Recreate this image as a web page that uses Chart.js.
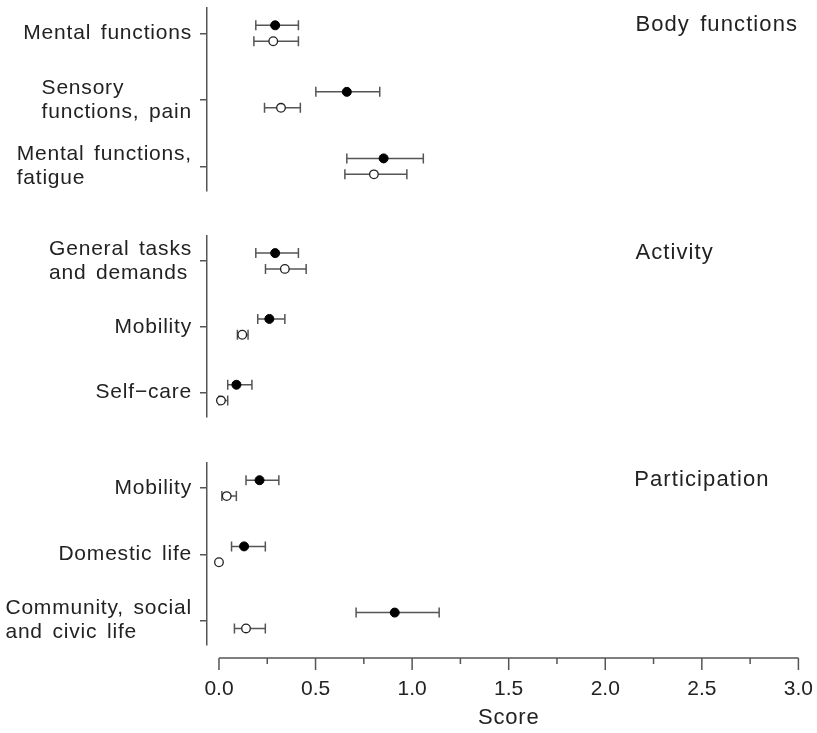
<!DOCTYPE html>
<html>
<head>
<meta charset="utf-8">
<title>Score by domain</title>
<script src="https://cdn.jsdelivr.net/npm/chart.js@4.4.0/dist/chart.umd.min.js"></script>
<style>
	html, body { margin: 0; padding: 0; background: #fff; }
	#wrap { position: relative; width: 817px; height: 733px; overflow: hidden; }
	#wrap canvas { position: absolute; left: 0; }
</style>
</head>
<body>
<div id="wrap">
	<canvas id="panelBody" width="817" height="200" style="top:0px"></canvas>
	<canvas id="panelActivity" width="817" height="200" style="top:228px"></canvas>
	<canvas id="panelParticipation" width="817" height="278" style="top:455px"></canvas>
</div>
<script>
// x axis ticks (labels only on every 0.5)
const xTickValues = [0, 0.25, 0.5, 0.75, 1, 1.25, 1.5, 1.75, 2, 2.25, 2.5, 2.75, 3];

// Body functions
const bodyLabels = [['Mental functions'], ['Sensory', 'functions, pain'], ['Mental functions,', 'fatigue']];
const bodyFilledMean = [0.29, 0.66, 0.85];
const bodyFilledLow = [0.19, 0.50, 0.66];
const bodyFilledHigh = [0.41, 0.83, 1.055];
const bodyOpenMean = [0.28, 0.32, 0.80];
const bodyOpenLow = [0.18, 0.235, 0.65];
const bodyOpenHigh = [0.41, 0.42, 0.97];

// Activity
const activityLabels = [['General tasks', 'and demands'], ['Mobility'], ['Self\u2212care']];
const activityFilledMean = [0.29, 0.26, 0.09];
const activityFilledLow = [0.19, 0.20, 0.045];
const activityFilledHigh = [0.41, 0.34, 0.17];
const activityOpenMean = [0.34, 0.12, 0.01];
const activityOpenLow = [0.24, 0.095, 0.0];
const activityOpenHigh = [0.45, 0.15, 0.045];

// Participation
const participationLabels = [['Mobility'], ['Domestic life'], ['Community, social', 'and civic life']];
const participationFilledMean = [0.21, 0.13, 0.91];
const participationFilledLow = [0.14, 0.065, 0.71];
const participationFilledHigh = [0.31, 0.24, 1.14];
const participationOpenMean = [0.04, 0.0, 0.14];
const participationOpenLow = [0.015, 0.0, 0.08];
const participationOpenHigh = [0.09, 0.0, 0.24];

const FONT = '"Liberation Sans", Arial, sans-serif';
const INK = '#222';
const AXIS = '#555';
Chart.defaults.font.family = FONT;
Chart.defaults.color = INK;

const toPoints = (means, shift) => means.map((v, i) => ({ x: v, y: i + shift }));

// whiskers with end caps, drawn under the points
const errorBarPlugin = {
	id: 'errorBars',
	beforeDatasetsDraw(chart) {
		const ctx = chart.ctx;
		const xs = chart.scales.x;
		ctx.save();
		ctx.strokeStyle = AXIS;
		ctx.lineWidth = 1.5;
		chart.data.datasets.forEach((ds, di) => {
			chart.getDatasetMeta(di).data.forEach((pt, i) => {
				if (ds.low[i] === ds.high[i]) return;
				const x1 = xs.getPixelForValue(ds.low[i]);
				const x2 = xs.getPixelForValue(ds.high[i]);
				const y = pt.y;
				ctx.beginPath();
				ctx.moveTo(x1, y); ctx.lineTo(x2, y);
				ctx.moveTo(x1, y - 5); ctx.lineTo(x1, y + 5);
				ctx.moveTo(x2, y - 5); ctx.lineTo(x2, y + 5);
				ctx.stroke();
			});
		});
		ctx.restore();
	},
};

// category labels (left-aligned block, right-justified to the axis) and panel title
const panelTextPlugin = {
	id: 'panelText',
	afterDraw(chart, args, opts) {
		const ctx = chart.ctx;
		const ys = chart.scales.y;
		const xs = chart.scales.x;
		const right = chart.chartArea.left - 15;
		ctx.save();
		ctx.fillStyle = INK;
		ctx.textBaseline = 'middle';
		ctx.textAlign = 'left';
		ctx.letterSpacing = '0.8px';
		ctx.wordSpacing = '3px';
		ctx.font = '21px ' + FONT;
		opts.labels.forEach((lines, i) => {
			const w = Math.max(...lines.map((l) => ctx.measureText(l).width));
			const yc = ys.getPixelForValue(i);
			lines.forEach((l, k) => ctx.fillText(l, right - w, yc + (k - (lines.length - 1) / 2) * 24));
		});
		ctx.font = '22px ' + FONT;
		ctx.letterSpacing = '1.1px';
		ctx.fillText(opts.title, xs.getPixelForValue(opts.titleX), ys.getPixelForValue(opts.titleY));
		ctx.restore();
	},
};

// R-style x axis: line from first to last tick, set below the plot
const bottomAxisPlugin = {
	id: 'bottomAxis',
	afterDraw(chart) {
		const xs = chart.scales.x;
		if (!xs.options.display) return;
		const ctx = chart.ctx;
		const y0 = chart.chartArea.bottom + 13;
		const a = xs.getPixelForValue(xTickValues[0]);
		const b = xs.getPixelForValue(xTickValues[xTickValues.length - 1]);
		ctx.save();
		ctx.strokeStyle = AXIS;
		ctx.lineWidth = 1.5;
		ctx.beginPath();
		ctx.moveTo(a, y0); ctx.lineTo(b, y0);
		xs.ticks.forEach((t) => {
			const px = xs.getPixelForValue(t.value);
			const len = t.value % 0.5 === 0 ? 12 : 6;
			ctx.moveTo(px, y0); ctx.lineTo(px, y0 + len);
		});
		ctx.stroke();
		ctx.fillStyle = INK;
		ctx.font = '22px ' + FONT;
		ctx.letterSpacing = '0.8px';
		ctx.textAlign = 'center';
		ctx.textBaseline = 'middle';
		ctx.fillText('Score', (a + b) / 2, 718 - 455);
		ctx.restore();
	},
};

function makePanel(canvasId, cfg) {
	const datasets = [
		{
			label: 'filled',
			data: toPoints(cfg.filled[0], -0.12),
			low: cfg.filled[1],
			high: cfg.filled[2],
			pointRadius: 4.5,
			pointBackgroundColor: '#000',
			pointBorderColor: '#000',
			pointBorderWidth: 1,
		},
		{
			label: 'open',
			data: toPoints(cfg.open[0], 0.12),
			low: cfg.open[1],
			high: cfg.open[2],
			pointRadius: 4.3,
			pointBackgroundColor: '#fff',
			pointBorderColor: '#222',
			pointBorderWidth: 1.3,
		},
	];

	return new Chart(document.getElementById(canvasId), {
		type: 'scatter',
		data: { datasets },
		options: {
			responsive: false,
			animation: false,
			layout: { padding: { top: 8, right: 17, bottom: cfg.showX ? 0 : cfg.bottomPad, left: 0 } },
			plugins: {
				legend: { display: false },
				tooltip: { enabled: false },
				panelText: { labels: cfg.labels, title: cfg.title, titleX: 2.15, titleY: -0.12 },
			},
			scales: {
				x: {
					type: 'linear',
					min: -0.062,
					max: 3.0,
					display: cfg.showX,
					border: { display: false },
					grid: { drawOnChartArea: false, color: 'transparent', tickLength: 28 },
					ticks: {
						autoSkip: false,
						maxRotation: 0,
						padding: 4,
						font: { size: 21 },
						color: INK,
						callback: (v) => (v % 0.5 === 0 ? v.toFixed(1) : ''),
					},
					afterBuildTicks: (scale) => {
						scale.ticks = xTickValues.map((v) => ({ value: v }));
					},
					afterFit: (scale) => {
						scale.height = cfg.showX ? 88 : 0;
					},
				},
				y: {
					type: 'linear',
					reverse: true,
					min: -0.38,
					max: 2.37,
					border: { display: true, color: AXIS, width: 1.5 },
					grid: { drawOnChartArea: false, color: AXIS, lineWidth: 1.5, tickLength: 7 },
					ticks: { display: false },
					afterBuildTicks: (scale) => {
						scale.ticks = cfg.labels.map((l, i) => ({ value: i }));
					},
					afterFit: (scale) => {
						scale.width = 207;
					},
				},
			},
		},
		plugins: [errorBarPlugin, panelTextPlugin, bottomAxisPlugin],
	});
}

makePanel('panelBody', {
	title: 'Body functions',
	labels: bodyLabels,
	filled: [bodyFilledMean, bodyFilledLow, bodyFilledHigh],
	open: [bodyOpenMean, bodyOpenLow, bodyOpenHigh],
	showX: false,
	bottomPad: 9,
});

makePanel('panelActivity', {
	title: 'Activity',
	labels: activityLabels,
	filled: [activityFilledMean, activityFilledLow, activityFilledHigh],
	open: [activityOpenMean, activityOpenLow, activityOpenHigh],
	showX: false,
	bottomPad: 11,
});

makePanel('panelParticipation', {
	title: 'Participation',
	labels: participationLabels,
	filled: [participationFilledMean, participationFilledLow, participationFilledHigh],
	open: [participationOpenMean, participationOpenLow, participationOpenHigh],
	showX: true,
	bottomPad: 0,
});
</script>
</body>
</html>
